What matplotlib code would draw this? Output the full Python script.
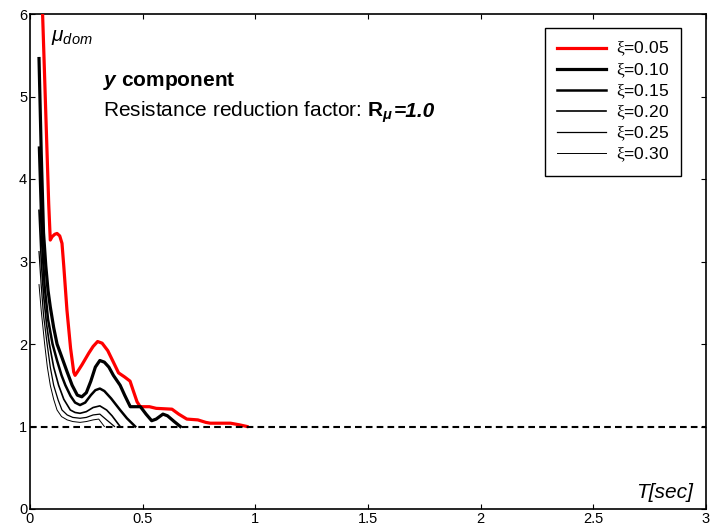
import matplotlib
matplotlib.use('Agg')
import matplotlib.pyplot as plt

plt.rcParams['font.family'] = ['Liberation Sans', 'DejaVu Sans']
plt.rcParams['mathtext.fontset'] = 'custom'
plt.rcParams['mathtext.rm'] = 'Liberation Sans'
plt.rcParams['mathtext.it'] = 'Liberation Sans:italic'
plt.rcParams['mathtext.bf'] = 'Liberation Sans:bold'
plt.rcParams['mathtext.bfit'] = 'Liberation Sans:italic:bold'
plt.rcParams['mathtext.sf'] = 'Liberation Serif'

# ---- data ----
T_005 = [0.05, 0.083, 0.09, 0.098, 0.11, 0.12, 0.132, 0.142, 0.15, 0.164, 0.18, 0.194, 0.20,
         0.21, 0.231, 0.261, 0.28, 0.30, 0.32, 0.345, 0.37, 0.393, 0.42, 0.444, 0.46, 0.475,
         0.489, 0.53, 0.56, 0.63, 0.66, 0.696, 0.745, 0.78, 0.80, 0.89, 0.93, 0.963]
mu_005 = [6.5, 3.7, 3.26, 3.3, 3.33, 3.34, 3.31, 3.22, 2.94, 2.41, 1.95, 1.66, 1.62,
          1.66, 1.75, 1.89, 1.97, 2.03, 2.01, 1.92, 1.78, 1.65, 1.60, 1.55, 1.42, 1.30,
          1.24, 1.24, 1.22, 1.21, 1.15, 1.09, 1.08, 1.05, 1.04, 1.04, 1.02, 1.0]

T_010 = [0.04, 0.05, 0.06, 0.07, 0.08, 0.09, 0.105, 0.12, 0.14, 0.165, 0.187, 0.21, 0.23,
         0.25, 0.27, 0.29, 0.31, 0.33, 0.35, 0.37, 0.40, 0.42, 0.445, 0.49, 0.515, 0.54,
         0.56, 0.59, 0.61, 0.64, 0.667]
mu_010 = [5.46, 4.3, 3.35, 2.95, 2.65, 2.45, 2.2, 2.0, 1.85, 1.66, 1.5, 1.38, 1.36,
          1.41, 1.55, 1.72, 1.80, 1.78, 1.72, 1.62, 1.50, 1.38, 1.24, 1.24, 1.15, 1.07,
          1.09, 1.15, 1.13, 1.06, 1.0]

T_015 = [0.04, 0.052, 0.065, 0.08, 0.10, 0.12, 0.14, 0.157, 0.18, 0.20, 0.222, 0.245,
         0.27, 0.29, 0.31, 0.33, 0.36, 0.40, 0.43, 0.467]
mu_015 = [4.38, 3.3, 2.7, 2.3, 2.0, 1.8, 1.62, 1.5, 1.37, 1.29, 1.26, 1.29,
          1.38, 1.44, 1.46, 1.43, 1.34, 1.2, 1.1, 1.0]

T_020 = [0.04, 0.05, 0.06, 0.073, 0.086, 0.105, 0.127, 0.15, 0.179, 0.20, 0.222, 0.25,
         0.28, 0.31, 0.34, 0.364, 0.40]
mu_020 = [3.62, 3.0, 2.6, 2.25, 2.0, 1.72, 1.5, 1.33, 1.2, 1.17, 1.16, 1.18,
          1.23, 1.25, 1.2, 1.13, 1.0]

T_025 = [0.04, 0.05, 0.06, 0.076, 0.09, 0.105, 0.125, 0.142, 0.165, 0.19, 0.222, 0.25,
         0.28, 0.31, 0.34, 0.375]
mu_025 = [3.12, 2.7, 2.35, 2.0, 1.72, 1.5, 1.32, 1.2, 1.14, 1.11, 1.10, 1.11,
          1.14, 1.15, 1.08, 1.0]

T_030 = [0.04, 0.05, 0.065, 0.077, 0.09, 0.105, 0.12, 0.14, 0.165, 0.19, 0.222, 0.25,
         0.28, 0.305, 0.33]
mu_030 = [2.72, 2.4, 2.0, 1.72, 1.5, 1.33, 1.2, 1.12, 1.08, 1.06, 1.05, 1.06,
          1.08, 1.09, 1.0]

damping = ['0.05', '0.10', '0.15', '0.20', '0.25', '0.30']
series_T = [T_005, T_010, T_015, T_020, T_025, T_030]
series_mu = [mu_005, mu_010, mu_015, mu_020, mu_025, mu_030]

x_ticks = [0, 0.5, 1, 1.5, 2, 2.5, 3]
x_tick_labels = ['0', '0.5', '1', '1.5', '2', '2.5', '3']
y_ticks = [0, 1, 2, 3, 4, 5, 6]
y_tick_labels = ['0', '1', '2', '3', '4', '5', '6']
mu_target = 1.0

# ---- style ----
colors = ['#ff0000', 'black', 'black', 'black', 'black', 'black']
widths = [2.3, 2.3, 1.8, 1.2, 0.9, 0.7]

fig = plt.figure(figsize=(7.2, 5.26), dpi=100)
ax = fig.add_axes([30 / 720, 17 / 526, 676 / 720, 495 / 526])

for T, mu, d, c, w in zip(series_T, series_mu, damping, colors, widths):
    ax.plot(T, mu, color=c, lw=w, label=r'$\mathsf{\xi}$=' + d, zorder=3,
            solid_joinstyle='round')

ax.axhline(mu_target, color='black', lw=1.5, ls=(0, (3.2, 2.0)), zorder=4)

ax.set_xlim(0, 3)
ax.set_ylim(0, 6)
ax.set_xticks(x_ticks)
ax.set_xticklabels(x_tick_labels, fontsize=10.5)
ax.set_yticks(y_ticks)
ax.set_yticklabels(y_tick_labels, fontsize=10.5)
ax.tick_params(direction='in', length=3.6, width=0.8, top=True, right=True, pad=2)
for s in ax.spines.values():
    s.set_linewidth(1.2)

leg = ax.legend(loc='upper right', bbox_to_anchor=(0.963, 0.972), fontsize=12.5,
                frameon=True, fancybox=False, shadow=False, framealpha=1,
                edgecolor='black', handlelength=2.85, handletextpad=0.55,
                labelspacing=0.15, borderpad=0.7, borderaxespad=0)
leg.get_frame().set_linewidth(1.0)

ax.text(0.093, 5.67, r'$\mu_{dom}$', fontsize=15, va='baseline', ha='left')
ax.text(2.942, 0.133, 'T[sec]', fontsize=15, style='italic', va='baseline', ha='right')

ax.text(0.325, 5.13, r'$\mathbfit{y}$ component', fontsize=15, fontweight='bold',
        va='baseline', ha='left')
t1 = ax.text(0.325, 4.75, r'Resistance reduction factor: $\mathbf{R}_{\mathbfit{\mu}}$',
             fontsize=15, va='baseline', ha='left')
fig.canvas.draw()
bb = t1.get_window_extent(renderer=fig.canvas.get_renderer())
x_end = ax.transData.inverted().transform((bb.x1, 0))[0]
ax.text(x_end, 4.75, '=1.0', fontsize=15, fontweight='bold', style='italic',
        va='baseline', ha='left')

fig.savefig('out.png', dpi=100)
